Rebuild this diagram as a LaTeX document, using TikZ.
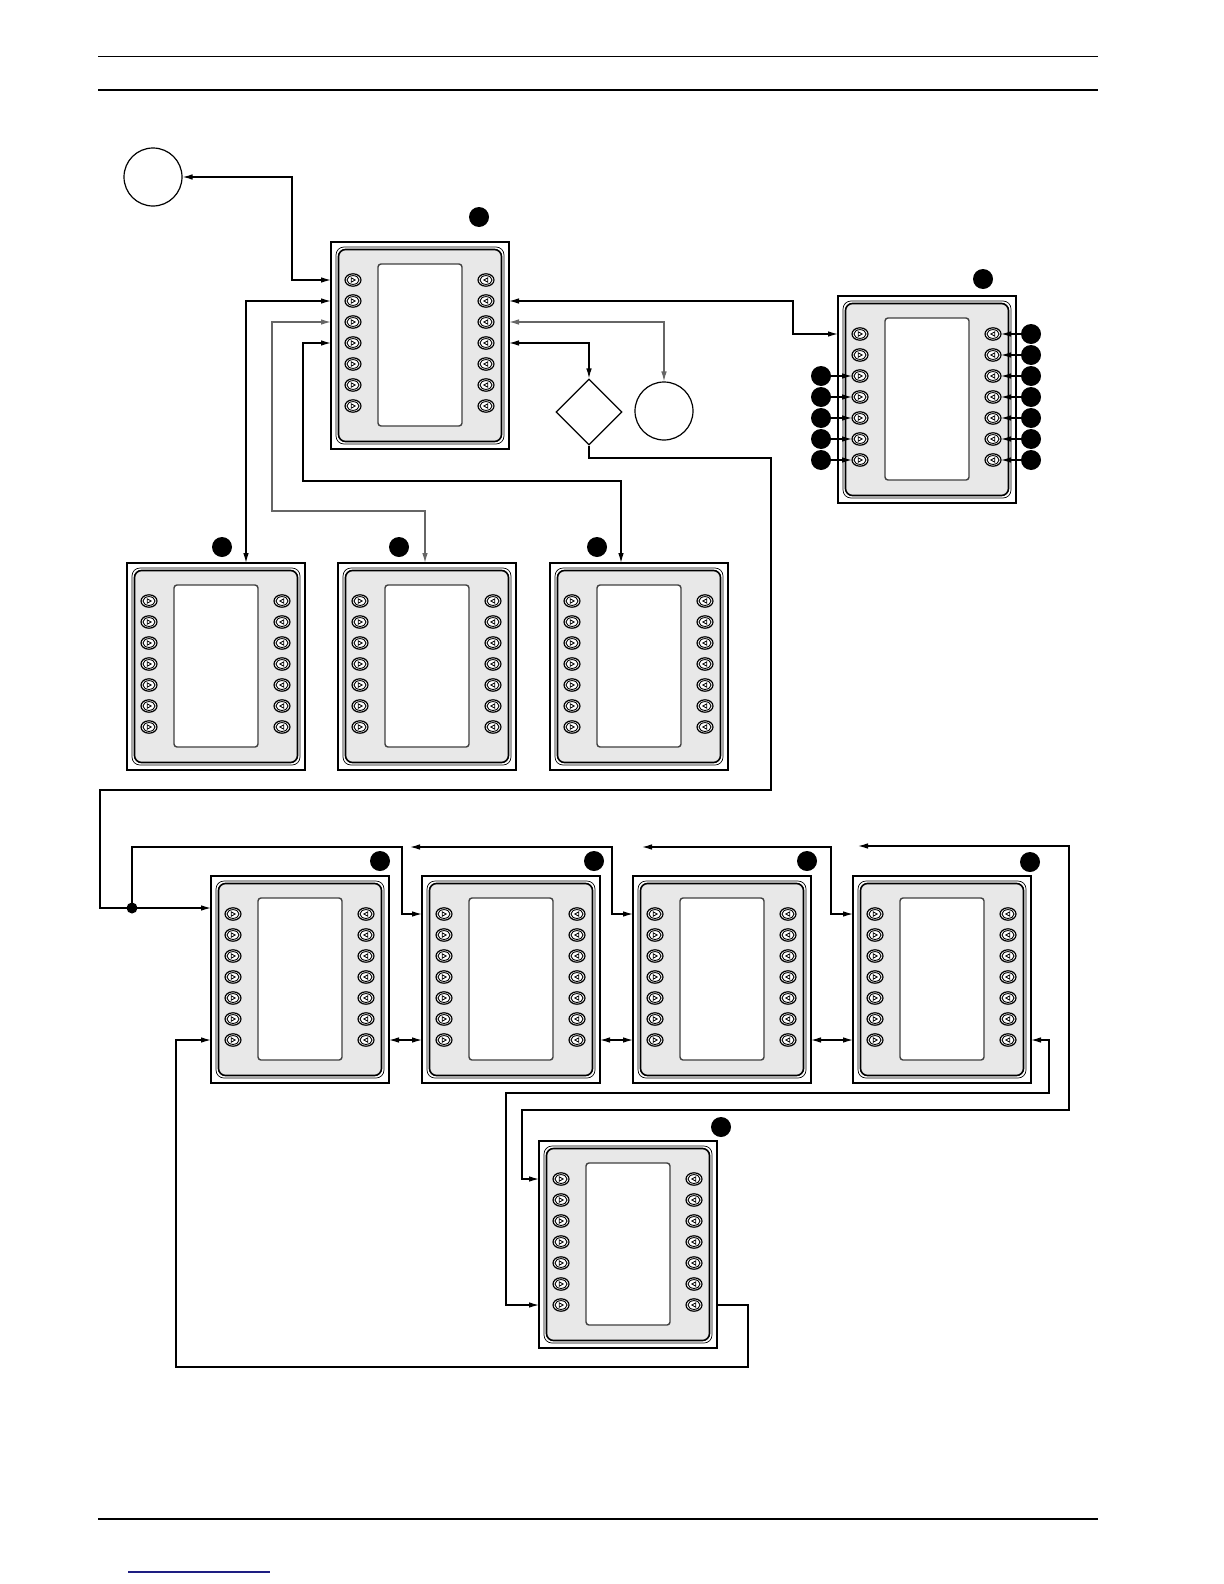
\documentclass[tikz,border=0pt]{standalone}
\usetikzlibrary{arrows.meta,shapes.geometric,calc}
\definecolor{panelgray}{RGB}{232,232,232}
\definecolor{navyline}{RGB}{30,30,130}
\tikzset{
  conn/.style={line width=0.6pt},
  gconn/.style={line width=0.6pt, draw=black!60},
  tag/.style={circle, fill=black, minimum size=10pt, inner sep=0pt},
  ring/.style={circle, draw, line width=0.6pt, minimum size=29pt, inner sep=0pt},
  junc/.style={circle, fill=black, minimum size=5.5pt, inner sep=0pt},
  rule/.style={line width=0.9pt},
  >={Latex[length=5pt,width=2.8pt]},
  panel/.pic={
    \draw[line width=0.9pt, fill=white] (0,0) rectangle (178,207);
    \draw[line width=0.35pt, rounded corners=4pt] (5,5) rectangle (173,202);
    \draw[line width=0.8pt, fill=panelgray, rounded corners=3.5pt] (7.5,7.5) rectangle (170.5,199.5);
    \draw[line width=0.7pt, draw=black!75, fill=white, rounded corners=1.5pt] (47,22) rectangle (131,184);
    \foreach \k in {1,...,7}{
      \pgfmathsetmacro{\yy}{38+21*(\k-1)}
      \draw[line width=0.6pt, fill=white] (22,\yy) ellipse [x radius=4pt, y radius=3.1pt];
      \draw[line width=0.45pt] (22,\yy) ellipse [x radius=3pt, y radius=2.2pt];
      \draw[line width=0.4pt] (20.2,\yy-2.2) -- (24.2,\yy) -- (20.2,\yy+2.2) -- cycle;
      \draw[line width=0.6pt, fill=white] (155,\yy) ellipse [x radius=4pt, y radius=3.1pt];
      \draw[line width=0.45pt] (155,\yy) ellipse [x radius=3pt, y radius=2.2pt];
      \draw[line width=0.4pt] (156.8,\yy-2.2) -- (152.8,\yy) -- (156.8,\yy+2.2) -- cycle;
      \coordinate (-L\k) at (0,\yy);
      \coordinate (-R\k) at (178,\yy);
      \coordinate (-BL\k) at (14,\yy);
      \coordinate (-BR\k) at (163,\yy);
    }
    \coordinate (-tl) at (0,0);
  }
}
\begin{document}
\begin{tikzpicture}[x=0.5pt,y=-0.5pt]
\useasboundingbox (0,0) rectangle (1224,1584);
% page rules
\draw[rule] (98,56.5) -- (1098,56.5);
\draw[rule] (98,90) -- (1098,90);
\draw[rule] (98,1519) -- (1098,1519);
\draw[line width=1pt, draw=navyline] (128,1572) -- (270,1572);

% panels
\pic (P1) at (331,242) {panel};
\pic (P2) at (127,563) {panel};
\pic (P3) at (338,563) {panel};
\pic (P4) at (550,563) {panel};
\pic (P5) at (838,296) {panel};
\pic (P6) at (211,876) {panel};
\pic (P7) at (422,876) {panel};
\pic (P8) at (633,876) {panel};
\pic (P9) at (853,876) {panel};
\pic (P10) at (539,1141) {panel};

% tags
\node[tag] (n1) at (479,217) {};
\node[tag] (n2) at (222,547) {};
\node[tag] (n3) at (399,547) {};
\node[tag] (n4) at (597,547) {};
\node[tag] (n5) at (983,279) {};
\node[tag] (n6) at (380,861) {};
\node[tag] (n7) at (594,861) {};
\node[tag] (n8) at (807,861) {};
\node[tag] (n9) at (1030,862) {};
\node[tag] (n10) at (721,1127) {};

% other shapes
\node[ring] (C1) at (153,177) {};
\node[ring] (C2) at (664,411) {};
\node[diamond, draw, line width=0.6pt, minimum size=33pt, inner sep=0pt] (D) at (589,412) {};

% P5 side markers
\foreach \k in {3,...,7}{
  \node[tag] (qL\k) at ($(P5-L\k)+(-17,0)$) {};
  \draw[conn,->] (qL\k) -- (P5-BL\k);
}
\foreach \k in {1,...,7}{
  \node[tag] (qR\k) at ($(P5-R\k)+(15,0)$) {};
  \draw[conn,->] (qR\k) -- (P5-BR\k);
}

% top connectors
\draw[conn,<->] (C1.east) -| (292,230) |- (P1-L1);
\draw[conn,<->] (P1-L2) -| (246,0 |- P2-tl);
\draw[gconn,<->] (P1-L3) -| (272,511) -| (425,0 |- P3-tl);
\draw[conn,<->] (P1-L4) -| (303,481) -| (621,0 |- P4-tl);
\draw[conn,<->] (P1-R2) -| (793,320) |- (P5-L1);
\draw[gconn,<->] (P1-R3) -| (C2.north);
\draw[conn,<->] (P1-R4) -| (D.north);

% long loop to bottom row
\coordinate (J) at ($(P6-L1)+(-79,-6)$);
\draw[conn,->] (D.south) |- (771,458) |- (100,790) |- (J) -- (J -| P6-L1);
\node[junc] (Jd) at (J) {};

% bottom row top links
\coordinate (t7) at (410,847);
\coordinate (t8) at (642,847);
\coordinate (t9) at (858,846);
\draw[conn,->] (J) |- (402,847) |- (P7-L1);
\draw[conn,<->] (t7) -| (612,880) |- (P8-L1);
\draw[conn,<->] (t8) -| (831,880) |- (P9-L1);
\draw[conn,<->] (t9) -| (1069,1110) -| (522,1150) |- (P10-L1);

% bottom row row-7 links
\draw[conn,<->] (P6-R7) -- (P7-L7);
\draw[conn,<->] (P7-R7) -- (P8-L7);
\draw[conn,<->] (P8-R7) -- (P9-L7);
\draw[conn,<->] (P9-R7) -| (1049,1093) -| (506,1200) |- (P10-L7);
\draw[conn,->] (P10-R7) -| (748,1367) -| (176,1200) |- (P6-L7);
\end{tikzpicture}
\end{document}
